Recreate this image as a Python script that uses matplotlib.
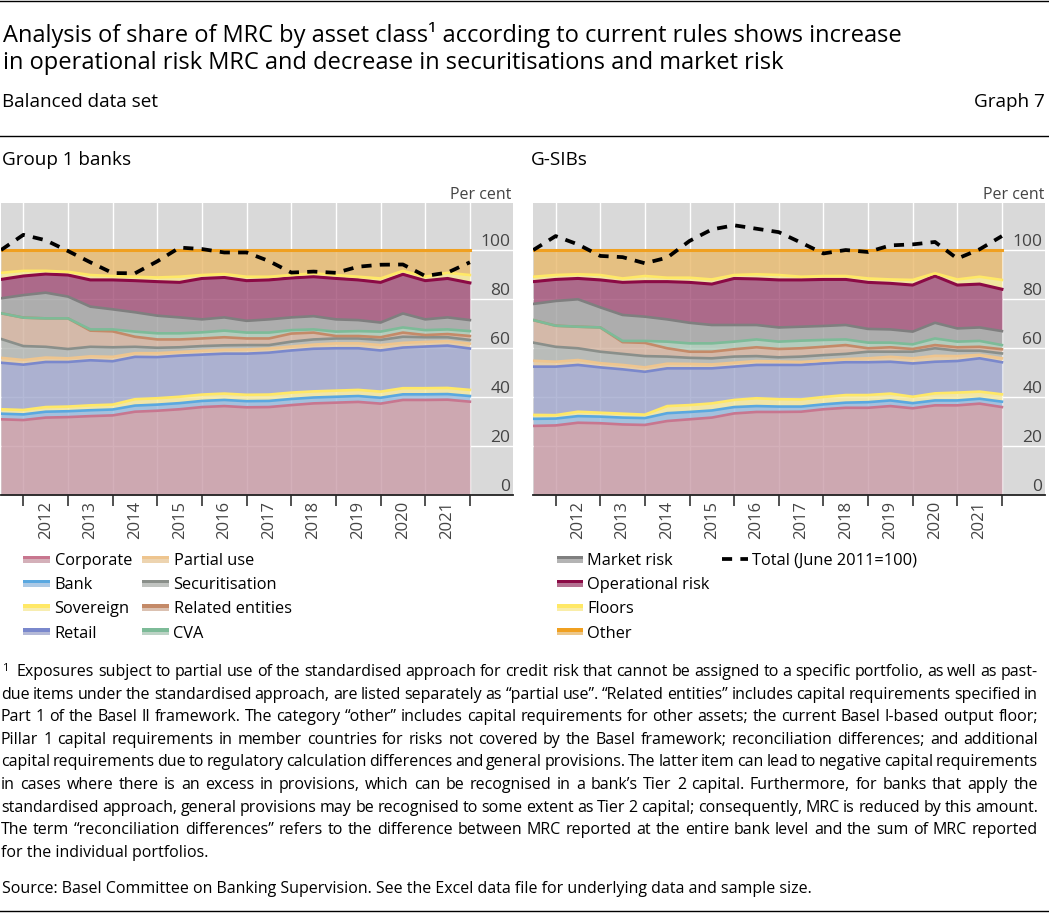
import numpy as np
import matplotlib
matplotlib.use('Agg')
import matplotlib.pyplot as plt
from matplotlib.lines import Line2D
from matplotlib.patches import Rectangle, Patch
from matplotlib.legend_handler import HandlerBase, HandlerLine2D

plt.rcParams['font.family'] = ['Open Sans', 'DejaVu Sans']

# ---------------- data ----------------
periods = ['Jun 2011', 'Dec 2011', 'Jun 2012', 'Dec 2012', 'Jun 2013', 'Dec 2013',
           'Jun 2014', 'Dec 2014', 'Jun 2015', 'Dec 2015', 'Jun 2016', 'Dec 2016',
           'Jun 2017', 'Dec 2017', 'Jun 2018', 'Dec 2018', 'Jun 2019', 'Dec 2019',
           'Jun 2020', 'Dec 2020', 'Jun 2021', 'Dec 2021']
year_labels = ['2012', '2013', '2014', '2015', '2016', '2017', '2018', '2019', '2020', '2021']
y_ticks = [0, 20, 40, 60, 80, 100]

series = ['Corporate', 'Bank', 'Sovereign', 'Retail', 'Partial use', 'Securitisation',
          'Related entities', 'CVA', 'Market risk', 'Operational risk', 'Floors', 'Other']

# Group 1 banks (per cent of MRC)
g1_corporate = [30.9, 30.6, 31.6, 31.8, 32.2, 32.5, 34.0, 34.4, 35.0, 35.9, 36.3, 35.8, 35.9, 36.7, 37.4, 37.7, 38.0, 37.3, 38.8, 38.8, 38.9, 38.1]
g1_bank = [2.3, 2.3, 2.4, 2.4, 2.4, 2.4, 2.5, 2.5, 2.5, 2.5, 2.5, 2.5, 2.5, 2.5, 2.4, 2.4, 2.4, 2.4, 2.3, 2.3, 2.3, 2.3]
g1_sovereign = [1.8, 1.8, 1.9, 1.9, 2.0, 2.0, 2.6, 2.6, 2.6, 2.6, 2.6, 2.6, 2.6, 2.6, 2.5, 2.5, 2.5, 2.5, 2.5, 2.5, 2.5, 2.5]
g1_retail = [19.0, 18.5, 18.4, 18.2, 18.4, 17.7, 17.3, 16.8, 16.8, 16.3, 16.3, 16.8, 17.1, 17.2, 17.4, 17.3, 17.0, 16.8, 16.6, 17.0, 17.3, 16.9]
g1_partial = [2.0, 1.9, 1.8, 1.5, 1.6, 1.8, 1.5, 1.6, 1.5, 1.6, 1.6, 1.7, 1.7, 1.6, 1.7, 2.0, 2.0, 2.2, 1.9, 1.9, 1.8, 2.0]
g1_securitisation = [7.7, 5.7, 4.4, 3.8, 3.9, 3.9, 2.6, 2.2, 1.9, 1.9, 1.8, 1.8, 1.4, 2.0, 2.1, 2.0, 2.0, 2.1, 2.5, 1.9, 1.6, 1.5]
g1_related = [10.5, 11.6, 11.6, 12.5, 6.6, 6.5, 4.1, 3.4, 3.2, 3.1, 3.3, 2.7, 2.7, 3.3, 2.8, 1.0, 1.0, 1.1, 1.7, 0.9, 1.3, 1.6]
g1_cva = [0.0, 0.0, 0.0, 0.0, 0.5, 0.8, 2.1, 2.5, 2.5, 2.5, 2.7, 2.4, 2.4, 1.4, 1.3, 1.8, 2.0, 2.3, 2.1, 2.0, 1.9, 2.0]
g1_market = [6.1, 9.2, 10.5, 8.9, 9.3, 8.2, 7.9, 7.2, 6.5, 5.3, 5.4, 4.8, 5.4, 5.2, 5.4, 5.0, 4.5, 3.7, 5.7, 4.4, 4.9, 4.5]
g1_operational = [7.7, 7.8, 7.6, 8.8, 10.9, 12.0, 12.9, 13.9, 14.3, 16.7, 16.3, 16.4, 16.1, 16.1, 16.1, 16.7, 16.4, 16.4, 16.0, 15.8, 15.9, 15.2]
g1_floors = [2.7, 2.1, 1.3, 1.3, 2.0, 1.6, 1.6, 1.7, 2.3, 1.4, 1.4, 1.6, 1.3, 1.2, 1.4, 1.4, 1.3, 1.6, 1.4, 1.6, 2.3, 3.2]
g1_other = [9.3, 8.5, 8.5, 8.9, 10.2, 10.6, 10.9, 11.2, 10.9, 10.2, 9.8, 10.9, 10.9, 10.2, 9.5, 10.2, 10.9, 11.6, 8.5, 10.9, 9.3, 10.2]
g1_total = [100.0, 106.2, 104.0, 99.6, 95.0, 90.6, 90.5, 95.4, 101.0, 100.4, 99.0, 99.0, 95.5, 90.8, 91.2, 90.7, 93.2, 94.0, 94.1, 89.4, 90.8, 95.0]

# G-SIBs (per cent of MRC)
gs_corporate = [28.2, 28.4, 29.5, 29.3, 28.8, 28.6, 30.2, 30.9, 31.6, 33.3, 33.9, 33.9, 34.0, 35.0, 35.6, 35.6, 36.3, 35.4, 36.6, 36.6, 37.3, 35.9]
gs_bank = [2.9, 2.8, 2.7, 2.7, 2.8, 2.8, 3.2, 3.0, 2.9, 2.6, 2.4, 2.2, 2.1, 2.0, 2.1, 2.3, 2.3, 2.1, 2.0, 2.0, 2.0, 2.2]
gs_sovereign = [1.6, 1.4, 1.8, 1.6, 1.6, 1.4, 2.9, 2.8, 2.9, 2.9, 3.2, 3.0, 2.9, 3.0, 3.1, 2.9, 2.8, 2.6, 2.9, 3.2, 2.9, 3.0]
gs_retail = [19.7, 19.8, 19.1, 18.5, 18.1, 17.5, 15.4, 15.0, 14.3, 13.6, 13.6, 14.0, 14.1, 13.7, 13.4, 13.4, 13.0, 13.6, 12.9, 12.9, 13.6, 13.1]
gs_partial = [2.4, 2.0, 2.0, 1.7, 1.8, 1.8, 1.9, 1.8, 1.6, 1.6, 1.6, 1.4, 1.2, 1.2, 1.3, 1.6, 2.0, 2.1, 2.4, 2.0, 1.4, 1.6]
gs_securitisation = [7.4, 6.1, 4.8, 4.7, 4.5, 4.6, 2.9, 2.5, 2.5, 2.5, 2.0, 1.7, 2.2, 2.2, 2.1, 2.7, 2.1, 2.7, 3.1, 2.2, 1.7, 2.0]
gs_related = [9.2, 8.6, 8.8, 9.9, 4.8, 5.4, 3.4, 2.5, 2.7, 3.0, 3.6, 3.4, 3.4, 3.4, 3.6, 1.4, 1.8, 1.1, 1.3, 1.4, 1.6, 1.7]
gs_cva = [0.0, 0.0, 0.0, 0.0, 0.5, 0.8, 2.7, 3.4, 3.4, 3.1, 3.2, 3.0, 3.1, 2.8, 2.3, 2.3, 1.9, 1.9, 2.7, 2.3, 2.4, 1.7]
gs_market = [6.6, 10.1, 11.2, 8.2, 10.6, 9.9, 9.1, 8.4, 7.5, 6.8, 5.9, 5.8, 5.7, 5.7, 5.9, 5.6, 5.4, 5.2, 6.4, 5.4, 5.5, 5.7]
gs_operational = [9.1, 8.8, 8.5, 11.2, 13.3, 14.3, 15.4, 16.5, 16.7, 19.0, 18.8, 19.4, 19.1, 19.0, 18.6, 19.0, 18.8, 19.0, 19.1, 17.7, 17.7, 17.1]
gs_floors = [2.0, 1.8, 1.7, 2.0, 1.6, 2.3, 1.6, 1.9, 1.9, 1.4, 1.9, 2.0, 1.3, 1.4, 1.4, 1.6, 1.6, 2.1, 1.1, 2.3, 3.0, 3.8]
gs_other = [10.9, 10.2, 9.9, 10.2, 11.6, 10.6, 11.3, 11.3, 12.0, 10.2, 9.9, 10.2, 10.9, 10.6, 10.6, 11.6, 12.0, 12.2, 9.5, 12.0, 10.9, 12.2]
gs_total = [100.0, 105.7, 102.3, 97.6, 97.1, 94.6, 96.9, 103.7, 108.4, 110.1, 108.7, 107.3, 103.0, 98.6, 100.0, 99.2, 101.9, 102.3, 103.3, 96.5, 100.3, 105.7]

g1_layers = [g1_corporate, g1_bank, g1_sovereign, g1_retail, g1_partial, g1_securitisation,
             g1_related, g1_cva, g1_market, g1_operational, g1_floors, g1_other]
gs_layers = [gs_corporate, gs_bank, gs_sovereign, gs_retail, gs_partial, gs_securitisation,
             gs_related, gs_cva, gs_market, gs_operational, gs_floors, gs_other]

# ---------------- style ----------------
BG = '#d9d9d9'
ALPHA = 0.8
line_colors = {
    'Corporate': '#c8768f', 'Bank': '#5aa8e0', 'Sovereign': '#ffe866', 'Retail': '#7a88cc',
    'Partial use': '#eec58f', 'Securitisation': '#8a8f8a', 'Related entities': '#c48a68',
    'CVA': '#7dbb98', 'Market risk': '#7f7f7f', 'Operational risk': '#8b0a45',
    'Floors': '#ffe866', 'Other': '#f0a020'}
seen_fill = {
    'Corporate': '#cda8b2', 'Bank': '#a4c2de', 'Sovereign': '#f0e6a8', 'Retail': '#acb2d0',
    'Partial use': '#e6cda8', 'Securitisation': '#b9bcb9', 'Related entities': '#d4baaa',
    'CVA': '#b4ccbe', 'Market risk': '#adadad', 'Operational risk': '#ac6a8a',
    'Floors': '#f2e6a0', 'Other': '#e6c082'}


def base_colour(hexcol):
    f = np.array(matplotlib.colors.to_rgb(hexcol))
    g = np.array(matplotlib.colors.to_rgb(BG))
    c = (f - (1 - ALPHA) * g) / ALPHA
    return tuple(np.clip(c, 0, 1))


fill_colors = {k: base_colour(v) for k, v in seen_fill.items()}

W, H = 1049, 913
fig = plt.figure(figsize=(W / 100, H / 100), dpi=100)


def fx(px):
    return px / W


def fy(py):
    return 1 - py / H


TXT = '#444444'
x = np.arange(len(periods))
dec_pos = [i for i, p in enumerate(periods) if p.startswith('Dec')]
lab_pos = [periods.index('Jun ' + y) for y in year_labels]


def draw_panel(ax, layers, total):
    ax.set_facecolor(BG)
    base = np.zeros(len(x))
    tops = []
    for name, vals in zip(series, layers):
        top = base + np.asarray(vals)
        ax.fill_between(x, base, top, color=fill_colors[name], alpha=ALPHA, lw=0, zorder=2)
        tops.append((name, top))
        base = top
    for name, top in tops:
        lw = 2.2 if name in ('Operational risk', 'Other') else 1.9
        ax.plot(x, top, color=line_colors[name], lw=lw, zorder=3)
    ax.plot(x, total, color='black', lw=2.7, dashes=(2.7, 2.2), dash_capstyle='butt', zorder=5)
    ax.set_xlim(0, 22.93)
    ax.set_ylim(0, 119.2)
    ax.set_xticks(dec_pos)
    ax.set_xticklabels([''] * len(dec_pos))
    ax.set_xticks(lab_pos, minor=True)
    ax.set_xticklabels(year_labels, minor=True, rotation=90)
    ax.tick_params(axis='x', which='major', length=8, width=1.2, color='#333333', direction='out')
    ax.tick_params(axis='x', which='minor', length=0, pad=4, labelsize=12, labelcolor=TXT)
    ax.set_yticks(y_ticks)
    ax.set_yticklabels([str(v) for v in y_ticks])
    ax.yaxis.tick_right()
    ax.tick_params(axis='y', length=0, pad=-2, labelsize=12.5, labelcolor=TXT)
    for lab in ax.get_yticklabels():
        lab.set_horizontalalignment('right')
        lab.set_verticalalignment('bottom')
    ax.set_axisbelow(True)
    ax.grid(axis='x', which='major', color='white', lw=1.0)
    ax.grid(axis='y', which='major', color='white', lw=1.0)
    for s in ('top', 'left', 'right'):
        ax.spines[s].set_visible(False)
    ax.spines['bottom'].set_color('#222222')
    ax.spines['bottom'].set_linewidth(1.3)
    ax.spines['bottom'].set_zorder(6)


ax1 = fig.add_axes([fx(1), fy(495), fx(513) - fx(1), (495 - 203) / H])
ax2 = fig.add_axes([fx(533.3), fy(495), fx(1045) - fx(533.3), (495 - 203) / H])
draw_panel(ax1, g1_layers, g1_total)
draw_panel(ax2, gs_layers, gs_total)


# ---------------- legends ----------------
class SplitHandler(HandlerBase):
    def __init__(self, top_col, bot_col):
        super().__init__()
        self.top_col = top_col
        self.bot_col = bot_col

    def create_artists(self, legend, orig_handle, xdescent, ydescent, width, height, fontsize, trans):
        hh = 3.4 * 72 / 100  # half-height (~3.4 px)
        yc = -ydescent + height / 2
        top = Rectangle((-xdescent, yc), width, hh, facecolor=self.top_col, edgecolor='none', transform=trans)
        bot = Rectangle((-xdescent, yc - hh), width, hh, facecolor=self.bot_col, alpha=ALPHA,
                        edgecolor='none', transform=trans)
        return [bot, top]


def make_handles(names):
    hs, hmap = [], {}
    for n in names:
        p = Patch(label=n)
        hs.append(p)
        hmap[p] = SplitHandler(line_colors[n], fill_colors[n])
    return hs, hmap


LFS = 11.8
LFS_PX = LFS * 100 / 72
leg_kw = dict(frameon=False, borderaxespad=0, borderpad=0, fontsize=LFS,
              handletextpad=4.5 / LFS_PX, labelspacing=0.5, loc='upper left',
              bbox_transform=fig.transFigure)
LEG_TOP = 553


def add_legend(names, x_px, handle_px):
    hs, hm = make_handles(names)
    fig.legend(handles=hs, labels=names, handler_map=hm, handlelength=handle_px / LFS_PX,
               bbox_to_anchor=(fx(x_px), fy(LEG_TOP)), **leg_kw)


add_legend(series[0:4], 23, 27)
add_legend(series[4:8], 142, 27)
add_legend(series[8:12], 557, 25.5)

total_handle = Line2D([], [], color='black', lw=2.7, dashes=(2.7, 2.2), dash_capstyle='butt')
fig.legend(handles=[total_handle], labels=['Total (June 2011=100)'],
           handler_map={total_handle: HandlerLine2D()}, handlelength=25.5 / LFS_PX,
           bbox_to_anchor=(fx(722), fy(LEG_TOP)), **leg_kw)

# ---------------- text ----------------
fig.text(fx(3), fy(41.5), 'Analysis of share of MRC by asset class\u00b9 according to current rules shows increase',
         fontsize=17, va='baseline', ha='left')
fig.text(fx(3), fy(69), 'in operational risk MRC and decrease in securitisations and market risk',
         fontsize=17, va='baseline', ha='left')
fig.text(fx(2), fy(106.7), 'Balanced data set', fontsize=13.6, va='baseline')
fig.text(fx(1045), fy(106.7), 'Graph 7', fontsize=13.6, va='baseline', ha='right')
fig.text(fx(2), fy(165), 'Group 1 banks', fontsize=13.6, va='baseline')
fig.text(fx(531), fy(165), 'G-SIBs', fontsize=13.6, va='baseline')
fig.text(fx(511), fy(199), 'Per cent', fontsize=11.5, va='baseline', ha='right', color=TXT)
fig.text(fx(1044), fy(199), 'Per cent', fontsize=11.5, va='baseline', ha='right', color=TXT)

for ypx in (1.5, 136, 911):
    fig.add_artist(Line2D([0, 1], [fy(ypx), fy(ypx)], transform=fig.transFigure, color='black', lw=1.0))

foot_lines = [
    'Exposures subject to partial use of the standardised approach for credit risk that cannot be assigned to a specific portfolio, as well as past-',
    'due items under the standardised approach, are listed separately as \u201cpartial use\u201d. \u201cRelated entities\u201d includes capital requirements specified in',
    'Part 1 of the Basel II framework. The category \u201cother\u201d includes capital requirements for other assets; the current Basel I-based output floor;',
    'Pillar 1 capital requirements in member countries for risks not covered by the Basel framework; reconciliation differences; and additional',
    'capital requirements due to regulatory calculation differences and general provisions. The latter item can lead to negative capital requirements',
    'in cases where there is an excess in provisions, which can be recognised in a bank\u2019s Tier 2 capital. Furthermore, for banks that apply the',
    'standardised approach, general provisions may be recognised to some extent as Tier 2 capital; consequently, MRC is reduced by this amount.',
    'The term \u201creconciliation differences\u201d refers to the difference between MRC reported at the entire bank level and the sum of MRC reported',
    'for the individual portfolios.',
]
FS = 11.5
RIGHT = 1038
fig.canvas.draw()
renderer = fig.canvas.get_renderer()
fig.text(fx(2), fy(671), '1', fontsize=8, va='baseline')
y0, dy = 676, 22.6
for k, line in enumerate(foot_lines):
    ypx = y0 + k * dy
    xs = 17 if k == 0 else 1
    if k == len(foot_lines) - 1:
        fig.text(fx(xs), fy(ypx), line, fontsize=FS, va='baseline')
        continue
    words = line.split(' ')
    ts = [fig.text(0, fy(ypx), w, fontsize=FS, va='baseline') for w in words]
    widths = [t.get_window_extent(renderer).width for t in ts]
    gap = (RIGHT - xs - sum(widths)) / (len(words) - 1)
    cx = xs
    for t, wd in zip(ts, widths):
        t.set_x(fx(cx))
        cx += wd + gap

fig.text(fx(2), fy(893), 'Source: Basel Committee on Banking Supervision. See the Excel data file for underlying data and sample size.',
         fontsize=FS, va='baseline')

fig.savefig('out.png', dpi=100)
